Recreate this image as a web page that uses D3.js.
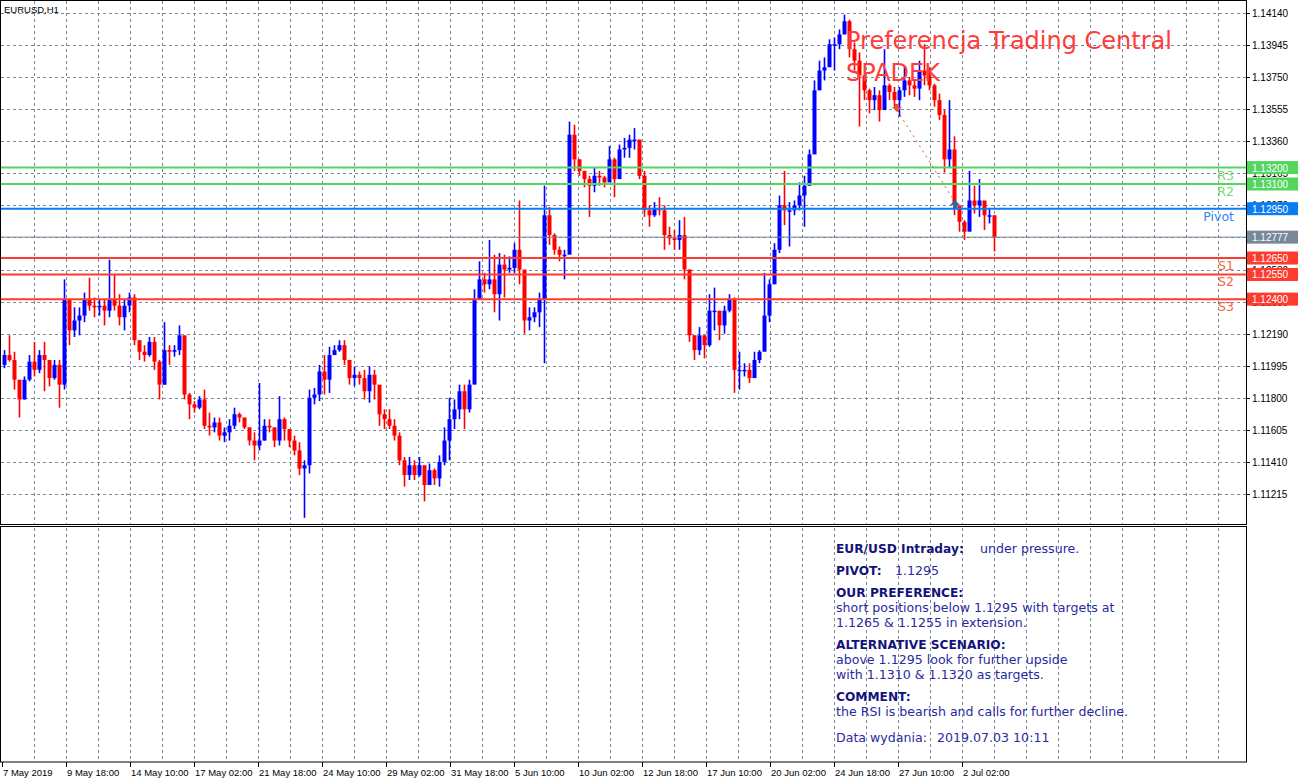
<!DOCTYPE html>
<html>
<head>
<meta charset="utf-8">
<script src="https://cdn.jsdelivr.net/npm/d3@7"></script>
<style>
body { margin: 0; background: #fff; }
svg { display: block; }
</style>
</head>
<body>
<svg id="chart"></svg>
<script>
// EURUSD H1, one mark = 5 hourly bars
var symbol = 'EURUSD,H1';
var hoursPerMark = 5;
var firstOpen = 1.1200;

var highs = [
    1.1209,1.1218,1.1208,1.1185,1.1193,1.1206,1.1214,1.1209,1.1214,1.1199,
    1.1203,1.1203,1.1252,1.1232,1.1235,1.1235,1.1244,1.1253,1.1241,1.1240,
    1.1240,1.1264,1.1255,1.1243,1.1240,1.1244,1.1243,1.1215,1.1212,1.1217,
    1.1217,1.1203,1.1226,1.1212,1.1212,1.1224,1.1212,1.1183,1.1178,1.1181,
    1.1185,1.1171,1.1168,1.1168,1.1162,1.1167,1.1174,1.1171,1.1168,1.1162,
    1.1159,1.1189,1.1167,1.1167,1.1162,1.1181,1.1168,1.1161,1.1157,1.1153,
    1.1142,1.1185,1.1186,1.1200,1.1206,1.1211,1.1212,1.1215,1.1215,1.1203,
    1.1199,1.1196,1.1197,1.1199,1.1197,1.1183,1.1173,1.1173,1.1167,1.1159,
    1.1144,1.1144,1.1142,1.1144,1.1136,1.1140,1.1137,1.1145,1.1162,1.1180,
    1.1179,1.1188,1.1188,1.1191,1.1246,1.1263,1.1256,1.1276,1.1267,1.1268,
    1.1267,1.1266,1.1274,1.1300,1.1252,1.1235,1.1235,1.1244,1.1309,1.1296,
    1.1280,1.1272,1.1270,1.1348,1.1346,1.1325,1.1318,1.1315,1.1320,1.1318,
    1.1315,1.1333,1.1326,1.1334,1.1338,1.1340,1.1344,1.1337,1.1318,1.1297,
    1.1299,1.1302,1.1297,1.1284,1.1282,1.1288,1.1290,1.1258,1.1218,1.1223,
    1.1218,1.1243,1.1247,1.1230,1.1236,1.1243,1.1241,1.1208,1.1201,1.1201,
    1.1208,1.1209,1.1256,1.1252,1.1274,1.1303,1.1318,1.1299,1.1300,1.1311,
    1.1315,1.1331,1.1373,1.1385,1.1387,1.1398,1.1399,1.1404,1.1413,1.1410,
    1.1396,1.1390,1.1376,1.1368,1.1369,1.1367,1.1392,1.1371,1.1369,1.1369,
    1.1381,1.1375,1.1373,1.1385,1.1395,1.1381,1.1371,1.1365,1.1355,1.1361,
    1.1339,1.1291,1.1288,1.1318,1.1309,1.1313,1.1295,1.1295,1.1291
];

var lows = [
    1.1198,1.1202,1.1185,1.1168,1.1179,1.1190,1.1193,1.1195,1.1184,1.1187,
    1.1191,1.1174,1.1185,1.1212,1.1217,1.1218,1.1226,1.1233,1.1229,1.1230,
    1.1224,1.1229,1.1233,1.1224,1.1221,1.1232,1.1212,1.1203,1.1202,1.1205,
    1.1197,1.1179,1.1188,1.1200,1.1205,1.1206,1.1179,1.1167,1.1171,1.1173,
    1.1161,1.1157,1.1159,1.1154,1.1153,1.1154,1.1161,1.1165,1.1161,1.1151,
    1.1142,1.1148,1.1154,1.1159,1.1150,1.1151,1.1154,1.1150,1.1145,1.1133,
    1.1107,1.1134,1.1176,1.1178,1.1182,1.1183,1.1206,1.1208,1.1200,1.1188,
    1.1187,1.1188,1.1179,1.1177,1.1179,1.1163,1.1161,1.1161,1.1154,1.1139,
    1.1126,1.1130,1.1130,1.1132,1.1117,1.1127,1.1127,1.1126,1.1139,1.1142,
    1.1161,1.1167,1.1161,1.1171,1.1191,1.1240,1.1244,1.1246,1.1232,1.1227,
    1.1241,1.1256,1.1256,1.1249,1.1219,1.1221,1.1226,1.1223,1.1201,1.1273,
    1.1267,1.1263,1.1252,1.1270,1.1318,1.1315,1.1308,1.1290,1.1305,1.1309,
    1.1308,1.1313,1.1302,1.1314,1.1326,1.1326,1.1331,1.1313,1.1290,1.1284,
    1.1290,1.1291,1.1270,1.1273,1.1270,1.1270,1.1252,1.1214,1.1203,1.1206,
    1.1204,1.1211,1.1221,1.1215,1.1219,1.1232,1.1183,1.1185,1.1193,1.1189,
    1.1196,1.1201,1.1214,1.1226,1.1255,1.1268,1.1285,1.1272,1.1291,1.1294,
    1.1284,1.1309,1.1329,1.1367,1.1373,1.1384,1.1379,1.1392,1.1401,1.1387,
    1.1379,1.1345,1.1361,1.1353,1.1355,1.1348,1.1363,1.1361,1.1357,1.1351,
    1.1363,1.1364,1.1363,1.1361,1.1370,1.1367,1.1357,1.1349,1.1317,1.1320,
    1.1291,1.1281,1.1276,1.1284,1.1292,1.1290,1.1282,1.1286,1.1269
];

var closes = [
    1.1206,1.1203,1.1191,1.1179,1.1191,1.1202,1.1197,1.1206,1.1203,1.1192,
    1.1200,1.1188,1.1240,1.1221,1.1227,1.1230,1.1240,1.1236,1.1235,1.1236,
    1.1233,1.1240,1.1236,1.1229,1.1236,1.1241,1.1215,1.1208,1.1206,1.1214,
    1.1202,1.1188,1.1209,1.1208,1.1209,1.1218,1.1182,1.1176,1.1174,1.1179,
    1.1163,1.1162,1.1165,1.1157,1.1159,1.1163,1.1170,1.1168,1.1162,1.1154,
    1.1151,1.1154,1.1163,1.1162,1.1154,1.1167,1.1161,1.1154,1.1148,1.1137,
    1.1139,1.1180,1.1182,1.1196,1.1191,1.1206,1.1209,1.1212,1.1203,1.1192,
    1.1194,1.1192,1.1184,1.1194,1.1188,1.1170,1.1167,1.1163,1.1157,1.1142,
    1.1133,1.1139,1.1133,1.1139,1.1127,1.1136,1.1131,1.1141,1.1154,1.1167,
    1.1173,1.1184,1.1173,1.1188,1.1240,1.1252,1.1249,1.1252,1.1243,1.1261,
    1.1258,1.1259,1.1270,1.1258,1.1227,1.1229,1.1232,1.1240,1.1291,1.1279,
    1.1270,1.1267,1.1267,1.1340,1.1325,1.1318,1.1313,1.1309,1.1315,1.1314,
    1.1311,1.1325,1.1313,1.1331,1.1332,1.1337,1.1337,1.1315,1.1294,1.1291,
    1.1295,1.1294,1.1279,1.1277,1.1276,1.1279,1.1258,1.1218,1.1209,1.1218,
    1.1212,1.1233,1.1233,1.1224,1.1233,1.1240,1.1197,1.1197,1.1197,1.1192,
    1.1203,1.1208,1.1230,1.1249,1.1270,1.1297,1.1294,1.1294,1.1297,1.1303,
    1.1309,1.1328,1.1367,1.1379,1.1381,1.1395,1.1395,1.1401,1.1409,1.1392,
    1.1385,1.1376,1.1367,1.1361,1.1364,1.1355,1.1370,1.1366,1.1361,1.1367,
    1.1373,1.1370,1.1368,1.1379,1.1376,1.1370,1.1361,1.1352,1.1325,1.1331,
    1.1297,1.1287,1.1281,1.1300,1.1297,1.1300,1.1291,1.1291,1.12777
];

var priceTicks = [1.14140, 1.13945, 1.13750, 1.13555, 1.13360, 1.13165, 1.12970, 1.12775,
    1.12580, 1.12385, 1.12190, 1.11995, 1.11800, 1.11605, 1.11410, 1.11215];

var timeLabels = ['7 May 2019', '9 May 18:00', '14 May 10:00', '17 May 02:00', '21 May 18:00',
    '24 May 10:00', '29 May 02:00', '31 May 18:00', '5 Jun 10:00', '10 Jun 02:00', '12 Jun 18:00',
    '17 Jun 10:00', '20 Jun 02:00', '24 Jun 18:00', '27 Jun 10:00', '2 Jul 02:00'];
var hoursPerLabel = 64;

var levelNames = ['R3', 'R2', 'Pivot', 'S1', 'S2', 'S3'];
var levelValues = [1.1320, 1.1310, 1.1295, 1.1265, 1.1255, 1.1240];
var lastPrice = 1.12777;

// sell then buy signal (bar index, price)
var signalBars = [895, 953];
var signalPrices = [1.1355, 1.1299];

var noteLines = [
    [['b', 'EUR/USD Intraday:'], ['n', 'under pressure.', 144]],
    [['b', 'PIVOT:'], ['n', '1.1295', 59]],
    [['b', 'OUR PREFERENCE:']],
    [['n', 'short positions below 1.1295 with targets at']],
    [['n', '1.1265 & 1.1255 in extension.']],
    [['b', 'ALTERNATIVE SCENARIO:']],
    [['n', 'above 1.1295 look for further upside']],
    [['n', 'with 1.1310 & 1.1320 as targets.']],
    [['b', 'COMMENT:']],
    [['n', 'the RSI is bearish and calls for further decline.']],
    [['n', 'Data wydania:'], ['n', '2019.07.03 10:11', 101]]
];
var noteBaselines = [553, 575, 597, 612, 627, 649, 664, 679, 701, 716, 742];

var W = 1299, H = 782;
var plotRight = 1246, mainBottom = 524, subTop = 527, subBottom = 762;
var gridColor = '#7a8898';

var svg = d3.select('#chart').attr('width', W).attr('height', H);

var x = d3.scaleLinear().domain([0, 1216]).range([2, 1218]);
var y = d3.scaleLinear().domain([1.14140, 1.11215]).range([13, 494]);

var bars = closes.map(function (c, i) {
    return { i: i, open: i ? closes[i - 1] : firstOpen, close: c, high: highs[i], low: lows[i] };
});

svg.append('rect').attr('width', W).attr('height', H).attr('fill', '#fff');

svg.append('clipPath').attr('id', 'mainClip')
    .append('rect').attr('x', 1).attr('y', 1).attr('width', plotRight - 1).attr('height', mainBottom - 1);

// grid
var vgrid = d3.range(32, 1217, 32);
var grid = svg.append('g').attr('stroke', gridColor).attr('stroke-dasharray', '3,3').attr('shape-rendering', 'crispEdges');
grid.selectAll('.vm').data(vgrid).join('line')
    .attr('x1', function (d) { return Math.round(x(d)) + 0.5; })
    .attr('x2', function (d) { return Math.round(x(d)) + 0.5; })
    .attr('y1', 1).attr('y2', mainBottom);
grid.selectAll('.vs').data(vgrid).join('line').attr('class', 'vs')
    .attr('x1', function (d) { return Math.round(x(d)) + 0.5; })
    .attr('x2', function (d) { return Math.round(x(d)) + 0.5; })
    .attr('y1', subTop + 1).attr('y2', subBottom);
grid.selectAll('.h').data(priceTicks).join('line').attr('class', 'h')
    .attr('x1', 1).attr('x2', plotRight)
    .attr('y1', function (d) { return Math.round(y(d)) + 0.5; })
    .attr('y2', function (d) { return Math.round(y(d)) + 0.5; });

// bars
var barG = svg.append('g').attr('clip-path', 'url(#mainClip)');
function barColor(d) { return d.close >= d.open ? '#0000ff' : '#ff0000'; }
barG.selectAll('.wick').data(bars).join('rect').attr('class', 'wick')
    .attr('x', function (d) { return x(d.i * hoursPerMark) + 1.7; })
    .attr('width', 1.6)
    .attr('y', function (d) { return y(d.high); })
    .attr('height', function (d) { return Math.max(1, y(d.low) - y(d.high)); })
    .attr('fill', barColor);
barG.selectAll('.body').data(bars).join('rect').attr('class', 'body')
    .attr('x', function (d) { return x(d.i * hoursPerMark) + 0.5; })
    .attr('width', 4)
    .attr('y', function (d) { return Math.min(y(d.open), y(d.close)); })
    .attr('height', function (d) { return Math.max(1.5, Math.abs(y(d.open) - y(d.close))); })
    .attr('fill', barColor);

// last price line
svg.append('line').attr('x1', 1).attr('x2', plotRight)
    .attr('y1', y(lastPrice)).attr('y2', y(lastPrice))
    .attr('stroke', '#778899').attr('stroke-width', 1);

// levels
function levelColor(name) {
    if (name.charAt(0) === 'R') return '#52d65e';
    if (name === 'Pivot') return '#0a7cf2';
    return '#ff3a2e';
}
function levelTextColor(name) {
    if (name.charAt(0) === 'R') return '#74dc74';
    if (name === 'Pivot') return '#2f86f2';
    return '#f8643f';
}
var levels = levelNames.map(function (n, i) { return { name: n, value: levelValues[i] }; });
svg.selectAll('.lvl').data(levels).join('line').attr('class', 'lvl')
    .attr('x1', 1).attr('x2', plotRight)
    .attr('y1', function (d) { return y(d.value); })
    .attr('y2', function (d) { return y(d.value); })
    .attr('stroke', function (d) { return levelColor(d.name); })
    .attr('stroke-width', 2);
svg.selectAll('.lvlname').data(levels).join('text').attr('class', 'lvlname')
    .attr('x', 1234).attr('y', function (d) { return y(d.value) + 12; })
    .attr('text-anchor', 'end')
    .attr('font-family', 'DejaVu Sans, Verdana, sans-serif').attr('font-size', 12.5)
    .attr('fill', function (d) { return levelTextColor(d.name); })
    .text(function (d) { return d.name; });

// signals
var sx = signalBars.map(function (b) { return x(b); });
var sy = signalPrices.map(function (p) { return y(p); });
svg.append('line').attr('x1', sx[0]).attr('y1', sy[0]).attr('x2', sx[1]).attr('y2', sy[1])
    .attr('stroke', '#e4532c').attr('stroke-width', 1).attr('stroke-dasharray', '2,4');
svg.append('path')
    .attr('d', 'M' + (sx[0] - 2) + ',' + (sy[0] - 6) + 'h4v3h3l-5,5l-5,-5h3z')
    .attr('fill', '#e4532c');
svg.append('path')
    .attr('d', 'M' + (sx[1] - 2) + ',' + (sy[1] + 6) + 'h4v-3h3l-5,-5l-5,5h3z')
    .attr('fill', '#2d6aa6');

// frames
svg.append('rect').attr('x', 0.5).attr('y', 0.5).attr('width', plotRight).attr('height', mainBottom)
    .attr('fill', 'none').attr('stroke', '#000');
svg.append('rect').attr('x', 0.5).attr('y', subTop - 0.5).attr('width', plotRight).attr('height', subBottom - subTop + 0.5)
    .attr('fill', 'none').attr('stroke', '#000');

// price axis
var axisFont = 'Liberation Sans, Arial, sans-serif';
var pAxis = svg.append('g');
pAxis.selectAll('line').data(priceTicks).join('line')
    .attr('x1', plotRight).attr('x2', plotRight + 4)
    .attr('y1', function (d) { return Math.round(y(d)) + 0.5; })
    .attr('y2', function (d) { return Math.round(y(d)) + 0.5; })
    .attr('stroke', '#000');
pAxis.selectAll('text').data(priceTicks).join('text')
    .attr('x', plotRight + 6).attr('y', function (d) { return y(d) + 4; })
    .attr('font-family', axisFont).attr('font-size', 10).attr('fill', '#000')
    .text(function (d) { return d3.format('.5f')(d); });

// price boxes
var boxes = levels.map(function (d) { return { value: d.value, color: levelColor(d.name) }; });
boxes.push({ value: lastPrice, color: '#778899' });
var boxG = svg.append('g').selectAll('g').data(boxes).join('g');
boxG.append('rect')
    .attr('x', plotRight + 1).attr('y', function (d) { return y(d.value) - 6.5; })
    .attr('width', 51).attr('height', 13)
    .attr('fill', function (d) { return d.color; });
boxG.append('text')
    .attr('x', plotRight + 6).attr('y', function (d) { return y(d.value) + 4; })
    .attr('font-family', axisFont).attr('font-size', 10).attr('fill', '#fff')
    .text(function (d) { return d3.format('.5f')(d.value); });

// time axis
var tAxis = svg.append('g');
tAxis.selectAll('line').data(timeLabels).join('line')
    .attr('x1', function (d, i) { return Math.round(x(i * hoursPerLabel)) + 0.5; })
    .attr('x2', function (d, i) { return Math.round(x(i * hoursPerLabel)) + 0.5; })
    .attr('y1', subBottom).attr('y2', subBottom + 5)
    .attr('stroke', '#000');
tAxis.selectAll('text').data(timeLabels).join('text')
    .attr('x', function (d, i) { return x(i * hoursPerLabel) + 1; })
    .attr('y', subBottom + 14)
    .attr('font-family', axisFont).attr('font-size', 9.5).attr('fill', '#000')
    .text(function (d) { return d; });

// symbol label
svg.append('text').attr('x', 4).attr('y', 13)
    .attr('font-family', axisFont).attr('font-size', 9.5).attr('fill', '#000')
    .text(symbol);

// title overlay
var title = svg.append('g')
    .attr('font-family', 'DejaVu Sans, Verdana, sans-serif').attr('font-size', 24)
    .attr('fill', '#ff3c3c');
title.append('text').attr('x', 846).attr('y', 49).text('Preferencja Trading Central');
title.append('text').attr('x', 846).attr('y', 81).text('SPADEK');

// comment panel
var note = svg.append('g').attr('font-family', 'DejaVu Sans, Verdana, sans-serif').attr('font-size', 12.6);
noteLines.forEach(function (line, li) {
    line.forEach(function (part) {
        note.append('text')
            .attr('x', 836 + (part[2] || 0))
            .attr('y', noteBaselines[li])
            .attr('font-weight', part[0] === 'b' ? 'bold' : 'normal')
            .attr('font-size', part[0] === 'b' ? 12.2 : 12.6)
            .attr('fill', part[0] === 'b' ? '#13137c' : '#2a2a9e')
            .text(part[1]);
    });
});
</script>
</body>
</html>
